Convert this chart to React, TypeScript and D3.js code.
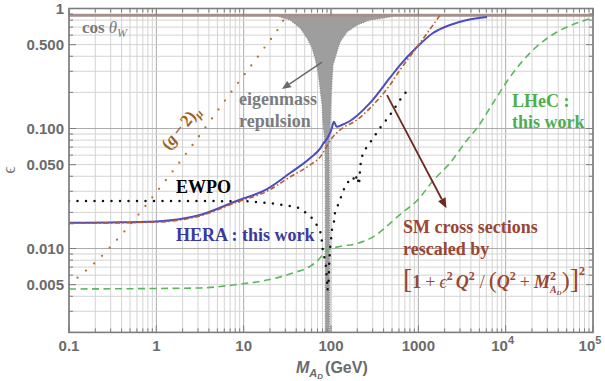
import * as d3 from 'd3'

type Pt = [number, number]

const COS_THETA_W = 0.877

// HERA : this work
const HERA: Pt[] = [
  [0.1, 0.0164], [0.3, 0.0165], [1, 0.0168], [3.16, 0.019], [8.3, 0.0249], [18.5, 0.0313],
  [34, 0.0426], [57.5, 0.0565], [75, 0.068], [82, 0.0753], [93, 0.0855], [102, 0.1004],
  [108, 0.114], [116, 0.1035], [133, 0.107], [165, 0.1155], [275, 0.161], [474, 0.265],
  [617, 0.338], [966, 0.478], [1472, 0.625], [2305, 0.729], [3610, 0.802], [6110, 0.85],
]

// SM cross sections rescaled
const SM_RESCALED: Pt[] = [
  [0.1, 0.0162], [1, 0.0166], [3.16, 0.0187], [8.3, 0.0243], [18.5, 0.030], [34, 0.0395],
  [57.5, 0.0497], [78, 0.060], [89, 0.0705], [102, 0.0828], [127, 0.0972], [197, 0.1177],
  [280, 0.148], [474, 0.231], [617, 0.307], [966, 0.478], [1770, 0.877],
]

// LHeC : this work
const LHEC: Pt[] = [
  [0.1, 0.0046], [3.16, 0.00469], [7.55, 0.00497], [18.5, 0.00546], [36.7, 0.00625],
  [57.5, 0.0071], [70, 0.0079], [81, 0.0089], [92.5, 0.0098], [127, 0.0104], [199, 0.011],
  [303, 0.0125], [474, 0.0162], [617, 0.0192], [957, 0.0249], [1500, 0.0372], [2305, 0.0516],
  [3610, 0.0802], [4700, 0.101], [7160, 0.163], [11220, 0.269], [20560, 0.451],
  [38700, 0.637], [71000, 0.772], [100000, 0.833],
]

// EWPO
const EWPO: Pt[] = [
  [0.1, 0.0249], [3.16, 0.0249], [11.8, 0.0247], [20, 0.0239], [34, 0.0226], [41.9, 0.0219],
  [51.8, 0.0198], [62.2, 0.0176], [69.2, 0.0156], [76.9, 0.0133], [81, 0.0094], [85.4, 0.008],
  [87.7, 0.007], [90, 0.00546], [91, 0.0045], [93.6, 0.00497], [94.9, 0.007], [97.5, 0.0101],
  [100, 0.0118], [102.6, 0.0143], [108, 0.0166], [111, 0.0198], [120, 0.023], [130.3, 0.0269],
  [141, 0.0313], [156.6, 0.0358], [178.7, 0.0394], [188, 0.0358], [198.6, 0.041],
  [209.5, 0.0338], [215, 0.0451], [221, 0.0557], [239, 0.065], [272, 0.0743], [311, 0.085],
  [355, 0.099], [404, 0.111], [474, 0.1296], [617, 0.173], [803, 0.222],
]

// (g-2)_mu
const G_MINUS_2: Pt[] = [
  [0.1, 0.005], [0.1225, 0.00565], [0.2075, 0.00787], [0.415, 0.01346], [0.966, 0.0285],
  [2.7, 0.0757], [7.35, 0.2054], [16.2, 0.4425], [29, 0.818], [30.5, 0.877],
]

// eigenmass repulsion region
const REPULSION_LEFT: Pt[] = [
  [24, 0.877], [26.1, 0.85], [34, 0.802], [44.2, 0.688], [53.1, 0.568], [60.6, 0.469],
  [65.6, 0.387], [71, 0.296], [74.8, 0.218], [78.9, 0.157], [81, 0.1133], [85.4, 0.0772],
  [86, 0.0254], [86, 0.002],
]
const REPULSION_RIGHT: Pt[] = [
  [96, 0.002], [96, 0.0254], [95, 0.0772], [97.5, 0.1133], [100, 0.18], [102.6, 0.244],
  [105.4, 0.338], [117, 0.434], [127, 0.526], [152, 0.637], [199, 0.729], [280, 0.802],
  [474, 0.85], [540, 0.877],
]

const X_TICKS = [0.1, 1, 10, 100, 1000, 1e4, 1e5]
const X_LABELS = ['0.1', '1', '10', '100', '1000', '10^4', '10^5']
const Y_TICKS = [0.005, 0.01, 0.05, 0.1, 0.5, 1]
const Y_LABELS = ['0.005', '0.010', '0.050', '0.100', '0.500', '1']

// annotation arrows, in data coordinates
const GRAY_ARROW: Pt[] = [[79, 0.358], [27.4, 0.213]]
const BROWN_ARROW: Pt[] = [[438, 0.19], [2100, 0.0217]]

const W = 605
const H = 381
const SANS = '"Liberation Sans", Arial, sans-serif'
const SERIF = '"Liberation Serif", "Times New Roman", serif'
const AXIS = '#7d7d7d'
const TICK_TEXT = '#6b6b6b'

function Arrow({ pts, x, y, color, width, head }: any) {
  const [x1, y1] = [x(pts[0][0]), y(pts[0][1])]
  const [x2, y2] = [x(pts[1][0]), y(pts[1][1])]
  const a = Math.atan2(y2 - y1, x2 - x1)
  const L = head, hw = head * 0.42
  const bx = x2 - L * Math.cos(a), by = y2 - L * Math.sin(a)
  const p1 = [bx + hw * Math.sin(a), by - hw * Math.cos(a)]
  const p2 = [bx - hw * Math.sin(a), by + hw * Math.cos(a)]
  return (
    <g>
      <line x1={x1} y1={y1} x2={bx} y2={by} stroke={color} strokeWidth={width} />
      <polygon points={`${x2},${y2} ${p1[0]},${p1[1]} ${p2[0]},${p2[1]}`} fill={color} />
    </g>
  )
}

export default function App() {
  const left = 69, right = 593, top = 8.5, bottom = 332.4
  const x = d3.scaleLog().domain([0.1, 1e5]).range([left, right])
  const y = d3.scaleLog().domain([0.002, 1]).range([bottom, top])

  const straight = d3.line<Pt>().x(d => x(d[0])).y(d => y(d[1]))
  const smooth = d3.line<Pt>().x(d => x(d[0])).y(d => y(d[1])).curve(d3.curveMonotoneX)

  const xMinor = x.ticks()
  const yMinor = y.ticks()
  const isMajorX = (v: number) => X_TICKS.some(t => Math.abs(t - v) / t < 1e-6)
  const isMajorY = (v: number) => Y_TICKS.some(t => Math.abs(t - v) / t < 1e-6)
  const isDecade = (v: number) => Math.abs(Math.log10(v) - Math.round(Math.log10(v))) < 1e-6

  const funnel = straight([...REPULSION_LEFT, ...REPULSION_RIGHT]) + 'Z'

  return (
    <svg width={W} height={H} style={{ position: 'absolute', left: 0, top: 0, background: '#fff' }}>
      <defs>
        <clipPath id="plot">
          <rect x={left} y={top} width={right - left} height={bottom - top} />
        </clipPath>
      </defs>

      {/* grid */}
      <g>
        {xMinor.map((v, i) => (
          <line key={'gx' + i} x1={x(v)} x2={x(v)} y1={top} y2={bottom}
            stroke={isDecade(v) ? '#ababab' : '#d3d3d3'} strokeWidth={1} />
        ))}
        {yMinor.map((v, i) => (
          <line key={'gy' + i} x1={left} x2={right} y1={y(v)} y2={y(v)}
            stroke={isDecade(v) ? '#ababab' : '#d3d3d3'} strokeWidth={1} />
        ))}
      </g>

      <g clipPath="url(#plot)">
        {/* eigenmass repulsion */}
        <path d={funnel} fill="#9e9e9e" stroke="#8a8a8a" strokeWidth={1.2} strokeDasharray="1 1.4" />
        {/* cos theta_W */}
        <line x1={left} x2={right} y1={y(COS_THETA_W)} y2={y(COS_THETA_W)} stroke="#a58f8c" strokeWidth={2.6} />
        {/* LHeC */}
        <path d={smooth(LHEC)!} fill="none" stroke="#5cb85c" strokeWidth={1.6} strokeDasharray="7 4.5" />
        {/* g-2 */}
        <path d={smooth(G_MINUS_2)!} fill="none" stroke="#b3702e" strokeWidth={2.3}
          strokeDasharray="0 11" strokeLinecap="round" />
        {/* EWPO */}
        <path d={straight(EWPO)!} fill="none" stroke="#111" strokeWidth={2.5}
          strokeDasharray="0 8.5" strokeLinecap="round" />
        {/* HERA */}
        <path d={smooth(HERA)!} fill="none" stroke="#4b4bc3" strokeWidth={2} />
        {/* SM rescaled */}
        <path d={smooth(SM_RESCALED)!} fill="none" stroke="#b85c30" strokeWidth={1.6}
          strokeDasharray="5 2.5 1.5 2.5" />
      </g>

      {/* frame */}
      <rect x={left} y={top} width={right - left} height={bottom - top} fill="none" stroke={AXIS} strokeWidth={1.6} />

      {/* ticks */}
      <g stroke={AXIS} strokeWidth={1}>
        {xMinor.map((v, i) => {
          const len = isMajorX(v) ? 7 : 4
          return (
            <g key={'tx' + i}>
              <line x1={x(v)} x2={x(v)} y1={bottom} y2={bottom - len} />
              <line x1={x(v)} x2={x(v)} y1={top} y2={top + len} />
            </g>
          )
        })}
        {yMinor.map((v, i) => {
          const len = isMajorY(v) ? 7 : 4
          return (
            <g key={'ty' + i}>
              <line x1={left} x2={left + len} y1={y(v)} y2={y(v)} />
              <line x1={right} x2={right - len} y1={y(v)} y2={y(v)} />
            </g>
          )
        })}
      </g>

      {/* tick labels */}
      <g fontFamily={SANS} fontWeight="bold" fontSize={15} fill={TICK_TEXT}>
        {X_TICKS.map((v, i) => {
          const lab = X_LABELS[i]
          if (lab.includes('^')) {
            const [b, e] = lab.split('^')
            return (
              <text key={'lx' + i} x={x(v) - 3} y={351} textAnchor="middle">
                <tspan>{b}</tspan>
                <tspan fontSize={11} dy={-7}>{e}</tspan>
              </text>
            )
          }
          return <text key={'lx' + i} x={x(v)} y={351} textAnchor="middle">{lab}</text>
        })}
        {Y_TICKS.map((v, i) => (
          <text key={'ly' + i} x={64} y={y(v) + 5.5} textAnchor="end">{Y_LABELS[i]}</text>
        ))}
      </g>

      {/* axis titles */}
      <text x={15} y={170} transform="rotate(-90 15 170)" textAnchor="middle" fontFamily={SERIF}
        fontSize={18} fill="#777">ϵ</text>
      <text x={296} y={373} fontFamily={SANS} fontWeight="bold" fontSize={16} fill={TICK_TEXT}>
        <tspan fontStyle="italic">M</tspan>
        <tspan fontStyle="italic" fontSize={11} dy={4}>A</tspan>
        <tspan fontStyle="italic" fontSize={8} dy={2}>D</tspan>
        <tspan dy={-6} dx={2}>(GeV)</tspan>
      </text>

      {/* annotations */}
      <text x={82} y={33} fontFamily={SERIF} fontSize={17} fill="#7a7a7a">
        <tspan fontWeight="bold">cos</tspan>
        <tspan dx={4} fontStyle="italic">θ</tspan>
        <tspan fontStyle="italic" fontSize={12} dy={4}>W</tspan>
      </text>

      <text x={185} y={131} transform="rotate(-51 185 131)" textAnchor="middle" fontFamily={SERIF}
        fontWeight="bold" fontSize={17} fill="#a0601e">
        <tspan>(</tspan>
        <tspan fontStyle="italic">g</tspan>
        <tspan dx={3}>−</tspan>
        <tspan dx={3}>2)</tspan>
        <tspan fontStyle="italic" fontSize={12} dy={4}>μ</tspan>
      </text>

      <g fontFamily={SERIF} fontWeight="bold" fontSize={18}>
        <text x={239} y={105} fill="#7c7c7c">eigenmass</text>
        <text x={239} y={127} fill="#7c7c7c">repulsion</text>
        <text x={176} y={193} fill="#000">EWPO</text>
        <text x={176} y={241} fill="#3a3a9e">HERA : this work</text>
        <text x={512} y={107} fill="#4cae4c">LHeC :</text>
        <text x={512} y={128} fill="#4cae4c">this work</text>
        <text x={403} y={233} fill="#9a4632">SM cross sections</text>
        <text x={403} y={255} fill="#9a4632">rescaled by</text>
        <text x={403} y={288} fill="#9a4632">
          <tspan fontSize={28} fontWeight="normal">[</tspan>
          <tspan>1</tspan>
          <tspan dx={4} fontWeight="normal">+</tspan>
          <tspan dx={4} fontStyle="italic" fontWeight="normal">ϵ</tspan>
          <tspan fontSize={12} dy={-8}>2</tspan>
          <tspan dx={3} dy={8} fontStyle="italic">Q</tspan>
          <tspan fontSize={12} dy={-8}>2</tspan>
          <tspan dx={5} dy={8} fontWeight="normal">/</tspan>
          <tspan dx={4} fontSize={24} fontWeight="normal">(</tspan>
          <tspan fontStyle="italic">Q</tspan>
          <tspan fontSize={12} dy={-8}>2</tspan>
          <tspan dx={4} dy={8} fontWeight="normal">+</tspan>
          <tspan dx={4} fontStyle="italic">M</tspan>
          <tspan fontSize={12} dy={-8}>2</tspan>
          <tspan fontSize={10} fontStyle="italic" dx={-6} dy={13}>A</tspan>
          <tspan fontSize={7} fontStyle="italic" dy={2}>D</tspan>
          <tspan fontSize={24} fontWeight="normal" dy={-7}>)</tspan>
          <tspan fontSize={28} fontWeight="normal">]</tspan>
          <tspan fontSize={12} dy={-13}>2</tspan>
        </text>
      </g>

      <Arrow pts={GRAY_ARROW} x={x} y={y} color="#6a6a6a" width={1.5} head={9} />
      <Arrow pts={BROWN_ARROW} x={x} y={y} color="#6e2a1f" width={1.8} head={10} />
    </svg>
  )
}
